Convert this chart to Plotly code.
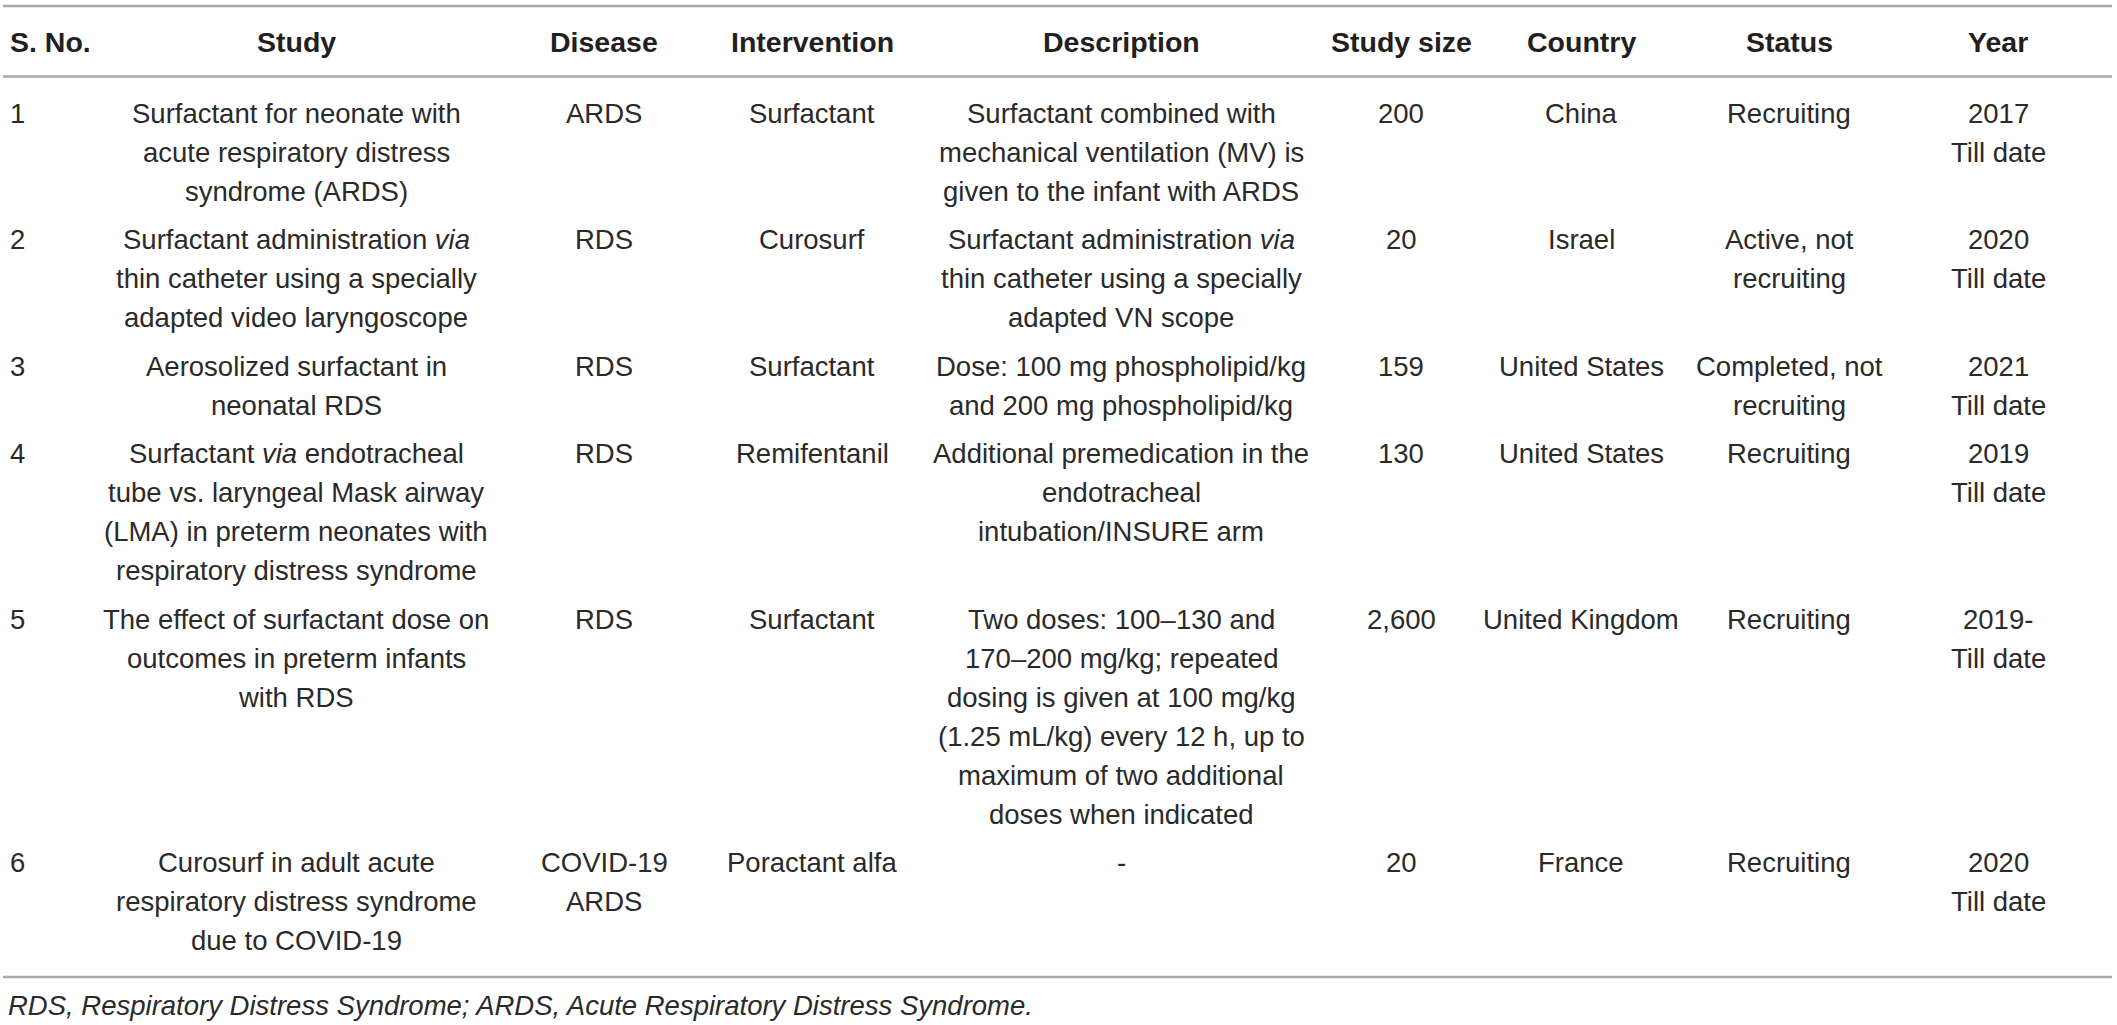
import plotly.graph_objects as go

# table content, one entry per study row (<br> = line break in the cell)
headers = ["S. No.", "Study", "Disease", "Intervention", "Description",
           "Study size", "Country", "Status", "Year"]

s_no = ["1", "2", "3", "4", "5", "6"]

study = [
    "Surfactant for neonate with<br>acute respiratory distress<br>syndrome (ARDS)",
    "Surfactant administration <i>via</i><br>thin catheter using a specially<br>adapted video laryngoscope",
    "Aerosolized surfactant in<br>neonatal RDS",
    "Surfactant <i>via</i> endotracheal<br>tube vs. laryngeal Mask airway<br>(LMA) in preterm neonates with<br>respiratory distress syndrome",
    "The effect of surfactant dose on<br>outcomes in preterm infants<br>with RDS",
    "Curosurf in adult acute<br>respiratory distress syndrome<br>due to COVID-19",
]

disease = ["ARDS", "RDS", "RDS", "RDS", "RDS", "COVID-19<br>ARDS"]

intervention = ["Surfactant", "Curosurf", "Surfactant", "Remifentanil",
                "Surfactant", "Poractant alfa"]

description = [
    "Surfactant combined with<br>mechanical ventilation (MV) is<br>given to the infant with ARDS",
    "Surfactant administration <i>via</i><br>thin catheter using a specially<br>adapted VN scope",
    "Dose: 100 mg phospholipid/kg<br>and 200 mg phospholipid/kg",
    "Additional premedication in the<br>endotracheal<br>intubation/INSURE arm",
    "Two doses: 100–130 and<br>170–200 mg/kg; repeated<br>dosing is given at 100 mg/kg<br>(1.25 mL/kg) every 12 h, up to<br>maximum of two additional<br>doses when indicated",
    "-",
]

study_size = ["200", "20", "159", "130", "2,600", "20"]

country = ["China", "Israel", "United States", "United States",
           "United Kingdom", "France"]

status = ["Recruiting", "Active, not<br>recruiting", "Completed, not<br>recruiting",
          "Recruiting", "Recruiting", "Recruiting"]

year = ["2017<br>Till date", "2020<br>Till date", "2021<br>Till date",
        "2019<br>Till date", "2019-<br>Till date", "2020<br>Till date"]

footnote = "RDS, Respiratory Distress Syndrome; ARDS, Acute Respiratory Distress Syndrome."

columns = [s_no, study, disease, intervention, description,
           study_size, country, status, year]

# layout (pixel units of the 2117 x 1025 page)
W, H = 2117, 1025
col_x = [8, 296, 604, 812, 1121, 1401, 1581, 1789, 1998]
col_align = ["left"] + ["center"] * 8
header_y = 42
first_row_y = 113
line_h = 39
row_gap = 9.5
rule_color = "#a8a8a8"
font_body = "Liberation Sans, Arial, sans-serif"

fig = go.Figure()
annotations = []

for cx, al, h in zip(col_x, col_align, headers):
    annotations.append(dict(
        x=cx, y=header_y, text="<b>" + h + "</b>", showarrow=False,
        xanchor="left" if al == "left" else "center", yanchor="middle",
        font=dict(family=font_body, size=28.5, color="#231f20")))

y = first_row_y
for r in range(len(s_no)):
    n_lines = max(len(col[r].split("<br>")) for col in columns)
    for cx, al, col in zip(col_x, col_align, columns):
        for k, line in enumerate(col[r].split("<br>")):
            annotations.append(dict(
                x=cx, y=y + k * line_h, text=line, showarrow=False,
                xanchor="left" if al == "left" else "center", yanchor="middle",
                font=dict(family=font_body, size=27.5, color="#2a2a2a")))
    y += n_lines * line_h + row_gap

annotations.append(dict(
    x=6, y=1005, text="<i>" + footnote + "</i>", showarrow=False,
    xanchor="left", yanchor="middle",
    font=dict(family=font_body, size=27.5, color="#2a2a2a")))

shapes = []
for ry in [6, 76.5, 977]:
    shapes.append(dict(type="line", x0=3, x1=2112, y0=ry, y1=ry,
                       xref="x", yref="y", line=dict(color=rule_color, width=2.5)))

fig.update_layout(
    width=W, height=H,
    margin=dict(l=0, r=0, t=0, b=0),
    paper_bgcolor="white", plot_bgcolor="white",
    xaxis=dict(range=[0, W], visible=False, fixedrange=True),
    yaxis=dict(range=[H, 0], visible=False, fixedrange=True),
    annotations=annotations, shapes=shapes,
    showlegend=False,
)

# drop the browser's default body margin so the page starts at 0,0
fig.write_html("out.html", config={"displayModeBar": False},
               post_script="document.body.style.margin='0';document.body.style.overflow='hidden';")
